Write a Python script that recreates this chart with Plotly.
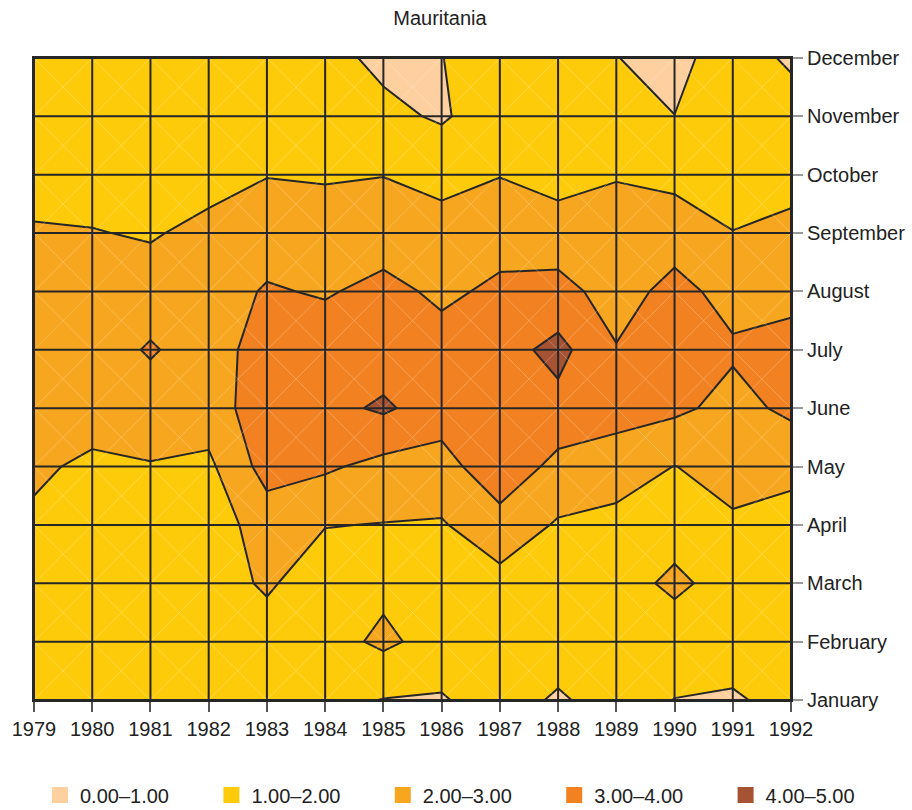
import plotly.graph_objects as go

# Axes
YEARS = list(range(1979, 1993))
MONTHS = ["January", "February", "March", "April", "May", "June",
          "July", "August", "September", "October", "November", "December"]
MONTH_POS = list(range(1, 13))

# Monthly values per year (columns follow YEARS)
JAN = [1.5, 1.5, 1.5, 1.5, 1.5, 1.32, 0.97, 0.91, 1.5, 0.85, 1.5, 0.98, 0.85, 1.4]
FEB = [1.6, 1.6, 1.6, 1.6, 1.6, 1.6, 2.2, 1.6, 1.6, 1.6, 1.6, 1.6, 1.6, 1.6]
MAR = [1.6, 1.6, 1.6, 1.6, 2.12, 1.5, 1.77, 1.7, 1.7, 1.7, 1.7, 2.15, 1.7, 1.6]
APR = [1.85, 1.6, 1.6, 1.5, 2.45, 2.03, 1.97, 1.92, 2.6, 1.9, 1.7, 1.7, 1.85, 1.6]
MAY = [2.15, 1.83, 1.95, 1.8, 3.4, 3.15, 2.7, 2.6, 3.7, 2.7, 2.5, 1.98, 2.4, 2.28]
JUN = [2.5, 2.4, 2.5, 2.5, 3.6, 3.7, 4.15, 3.5, 3.6, 3.7, 3.38, 3.2, 2.7, 3.2]
JUL = [2.5, 2.5, 3.1, 2.5, 3.5, 3.6, 3.48, 3.4, 3.6, 4.3, 3.05, 3.5, 3.12, 3.37]
AUG = [2.5, 2.5, 2.5, 2.5, 3.1, 2.9, 3.3, 2.8, 3.2, 3.3, 2.63, 3.28, 2.68, 2.7]
SEP = [2.15, 2.05, 1.9, 2.3, 2.5, 2.5, 2.5, 2.5, 2.6, 2.5, 2.5, 2.6, 2.02, 2.3]
OCT = [1.4, 1.5, 1.6, 1.6, 1.97, 1.9, 1.98, 1.6, 1.97, 1.6, 1.93, 1.7, 1.6, 1.6]
NOV = [1.5, 1.5, 1.5, 1.5, 1.5, 1.5, 1.2, 0.9, 1.48, 1.5, 1.5, 1.01, 1.5, 1.5]
DEC = [1.5, 1.5, 1.5, 1.5, 1.5, 1.25, 0.81, 0.98, 1.5, 1.5, 1.02, 0.7, 1.53, 0.83]
Z = [JAN, FEB, MAR, APR, MAY, JUN, JUL, AUG, SEP, OCT, NOV, DEC]

# Contour bands
LEVEL_LABELS = ["0.00\u20131.00", "1.00\u20132.00", "2.00\u20133.00",
                "3.00\u20134.00", "4.00\u20135.00"]
LEVEL_COLORS = ["#FED09F", "#FECB0B", "#F7A61F", "#F28221", "#A65333"]

FONT = "Liberation Sans, Arial, sans-serif"
TEXT = "#222222"
LINE = "#262626"
W, H = 912, 810

# stepwise colour scale: one flat colour per band
n = len(LEVEL_COLORS)
colorscale = []
for k, c in enumerate(LEVEL_COLORS):
    colorscale.append([k / n, c])
    colorscale.append([(k + 1) / n, c])

fig = go.Figure()

fig.add_trace(go.Contour(
    x=YEARS, y=MONTH_POS, z=Z,
    zmin=0, zmax=5,
    autocontour=False,
    contours=dict(start=1, end=4, size=1, coloring="fill", showlines=True),
    line=dict(color=LINE, width=2, smoothing=0),
    colorscale=colorscale,
    showscale=False,
    hoverinfo="skip",
    showlegend=False,
))

# faint cell diagonals over the fill
dx, dy = [], []
for i in range(len(YEARS) - 1):
    for j in range(len(MONTH_POS) - 1):
        x0, x1 = YEARS[i], YEARS[i + 1]
        y0, y1 = MONTH_POS[j], MONTH_POS[j + 1]
        dx += [x0, x1, None, x0, x1, None]
        dy += [y0, y1, None, y1, y0, None]
fig.add_trace(go.Scatter(
    x=dx, y=dy, mode="lines",
    line=dict(color="rgba(255,255,255,0.3)", width=0.8),
    hoverinfo="skip", showlegend=False,
))

# one small legend per band, laid out in a row under the chart
legend_layout = {}
for k, (lab, col) in enumerate(zip(LEVEL_LABELS, LEVEL_COLORS)):
    key = "legend" if k == 0 else f"legend{k + 1}"
    fig.add_trace(go.Scatter(
        x=[None], y=[None], mode="markers", name=lab, legend=key,
        marker=dict(symbol="square", size=16, color=col, line=dict(width=0)),
    ))
    legend_layout[key] = dict(
        orientation="h", xref="container", yref="container",
        x=(40 + 171.4 * k) / W, xanchor="left",
        y=1 - 795 / H, yanchor="middle",
        font=dict(family=FONT, size=20, color=TEXT),
        bgcolor="rgba(0,0,0,0)", borderwidth=0,
    )

# cell grid drawn on top of the contour fill
shapes = []
for yr in YEARS:
    shapes.append(dict(type="line", xref="x", yref="y", x0=yr, x1=yr,
                       y0=MONTH_POS[0], y1=MONTH_POS[-1], layer="above",
                       line=dict(color=LINE, width=2)))
for m in MONTH_POS:
    shapes.append(dict(type="line", xref="x", yref="y", x0=YEARS[0], x1=YEARS[-1],
                       y0=m, y1=m, layer="above",
                       line=dict(color=LINE, width=2)))

fig.update_layout(
    width=W, height=H, autosize=False,
    margin=dict(l=34, r=121, t=58, b=110, autoexpand=False),
    paper_bgcolor="white", plot_bgcolor="white",
    font=dict(family=FONT, size=20, color=TEXT),
    title=dict(text="Mauritania", x=440 / W, xref="container", xanchor="center",
               y=1 - 18 / H, yref="container", yanchor="middle",
               font=dict(family=FONT, size=20, color=TEXT)),
    shapes=shapes,
    showlegend=True,
    hovermode=False,
    **legend_layout,
)

fig.update_xaxes(
    range=[YEARS[0], YEARS[-1]], tickvals=YEARS, ticktext=[str(y) for y in YEARS],
    ticks="outside", ticklen=10, tickwidth=1.5, tickcolor="#555555",
    showgrid=False, zeroline=False,
    showline=True, linecolor=LINE, linewidth=2, mirror=True,
    tickfont=dict(family=FONT, size=20, color=TEXT),
)
fig.update_yaxes(
    range=[MONTH_POS[0], MONTH_POS[-1]], tickvals=MONTH_POS, ticktext=MONTHS,
    side="right",
    ticks="outside", ticklen=10, tickwidth=1.5, tickcolor="#999999",
    showgrid=False, zeroline=False,
    showline=True, linecolor=LINE, linewidth=2, mirror=True,
    tickfont=dict(family=FONT, size=20, color=TEXT),
)

fig.write_html("out.html")
